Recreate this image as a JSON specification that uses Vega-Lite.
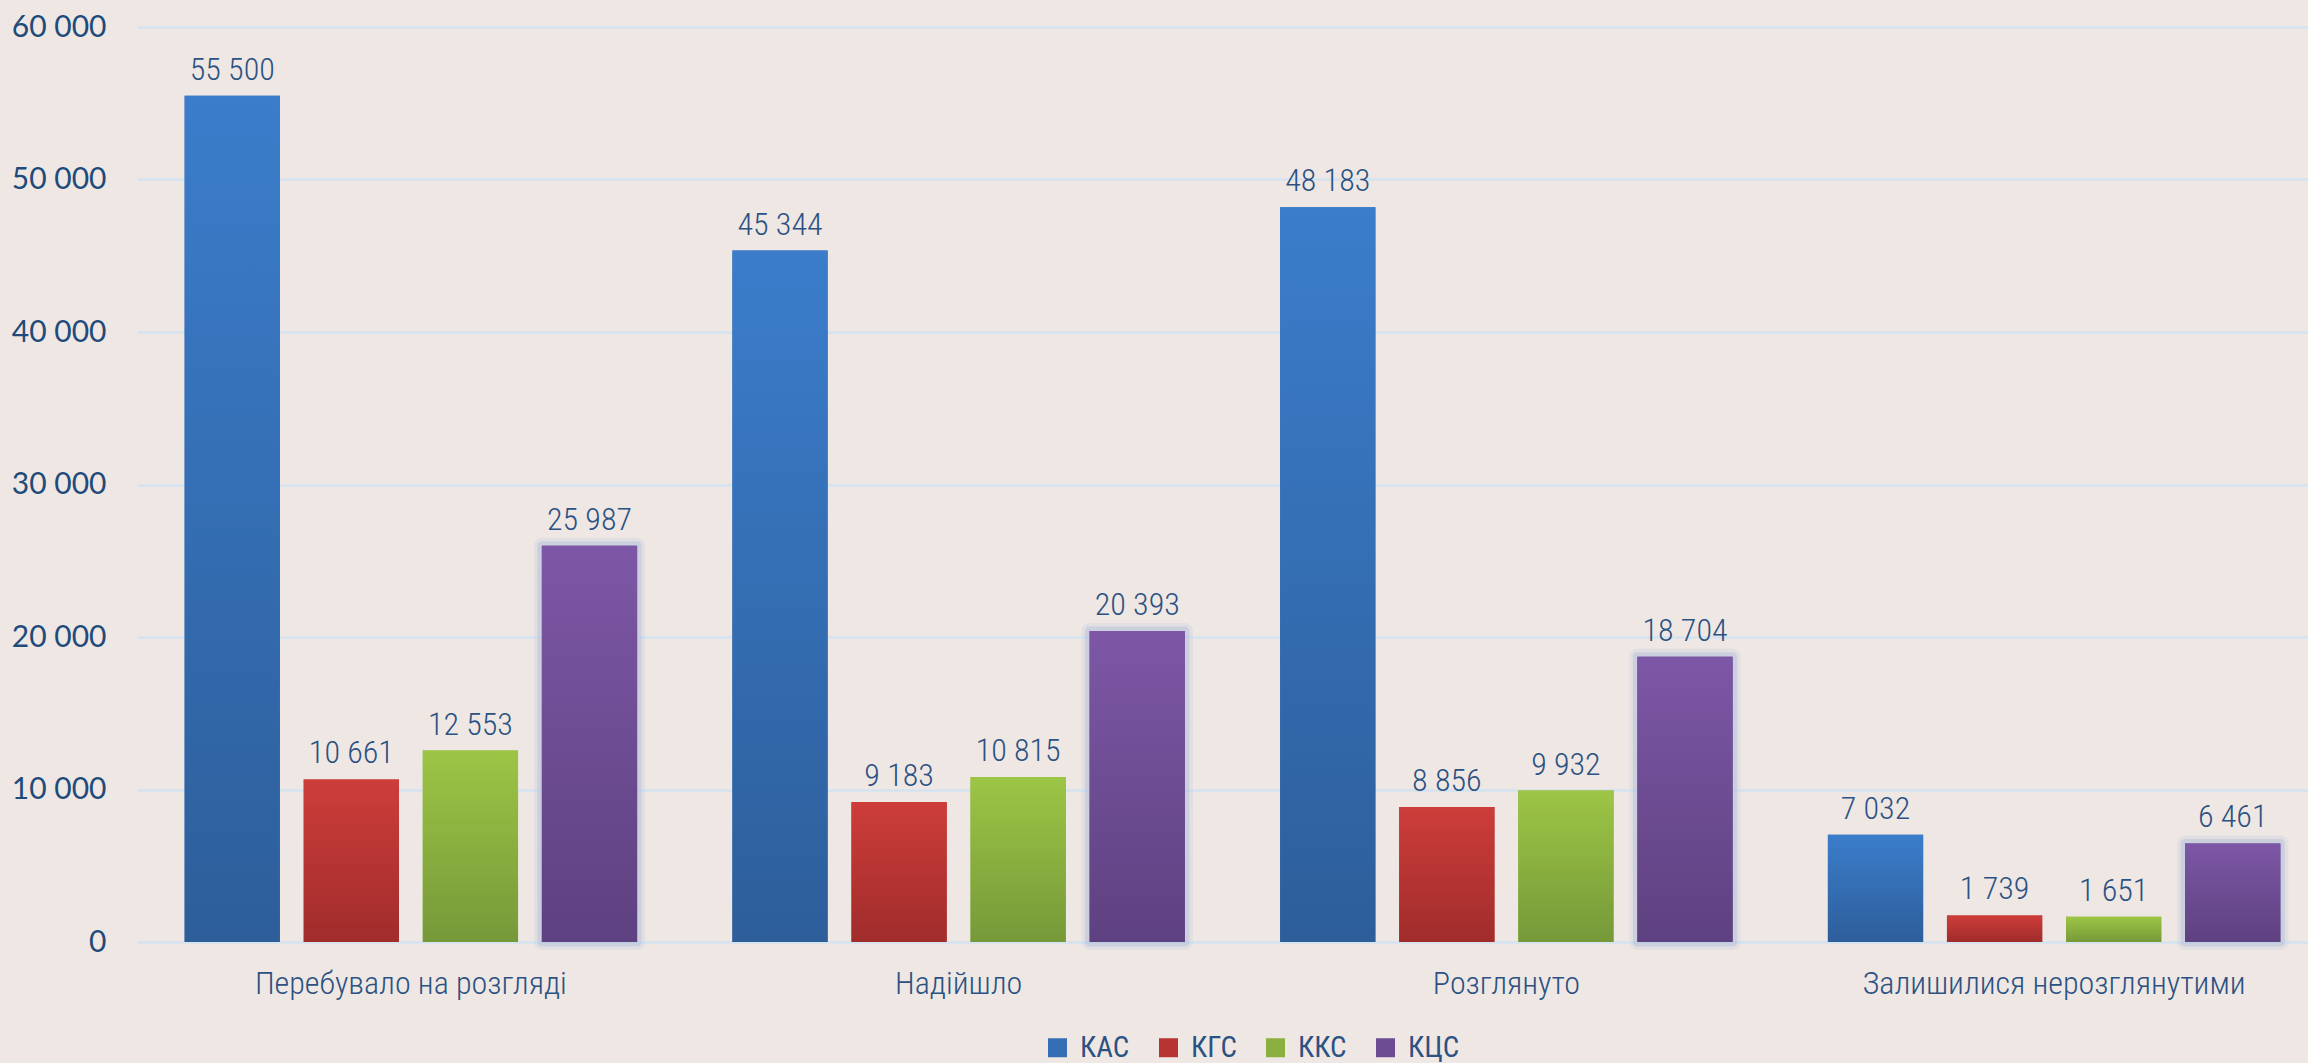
{
  "$schema": "https://vega.github.io/schema/vega-lite/v6.json",
  "width": 2171,
  "height": 915,
  "autosize": {"type": "none"},
  "padding": {"left": 137, "top": 27, "right": 0, "bottom": 121},
  "background": "#efe7e4",
  "data": {
    "values": [
      {"cat": "Перебувало на розгляді", "s": "КАС", "v": 55500},
      {"cat": "Перебувало на розгляді", "s": "КГС", "v": 10661},
      {"cat": "Перебувало на розгляді", "s": "ККС", "v": 12553},
      {"cat": "Перебувало на розгляді", "s": "КЦС", "v": 25987},
      {"cat": "Надійшло", "s": "КАС", "v": 45344},
      {"cat": "Надійшло", "s": "КГС", "v": 9183},
      {"cat": "Надійшло", "s": "ККС", "v": 10815},
      {"cat": "Надійшло", "s": "КЦС", "v": 20393},
      {"cat": "Розглянуто", "s": "КАС", "v": 48183},
      {"cat": "Розглянуто", "s": "КГС", "v": 8856},
      {"cat": "Розглянуто", "s": "ККС", "v": 9932},
      {"cat": "Розглянуто", "s": "КЦС", "v": 18704},
      {"cat": "Залишилися нерозглянутими", "s": "КАС", "v": 7032},
      {"cat": "Залишилися нерозглянутими", "s": "КГС", "v": 1739},
      {"cat": "Залишилися нерозглянутими", "s": "ККС", "v": 1651},
      {"cat": "Залишилися нерозглянутими", "s": "КЦС", "v": 6461}
    ]
  },
  "encoding": {
    "x": {
      "field": "cat",
      "type": "nominal",
      "sort": ["Перебувало на розгляді", "Надійшло", "Розглянуто", "Залишилися нерозглянутими"],
      "scale": {"range": [0, 2191], "paddingInner": 0, "paddingOuter": 0},
      "axis": {
        "title": null,
        "domain": false,
        "ticks": false,
        "labelAngle": 0,
        "labelLimit": 0,
        "labelPadding": 51,
        "labelBaseline": "alphabetic",
        "labelFont": "Roboto Condensed, Liberation Sans Narrow, DejaVu Sans Condensed, sans-serif",
        "labelFontWeight": 300,
        "labelFontSize": 32,
        "labelColor": "#2b5282"
      }
    },
    "xOffset": {
      "field": "s",
      "type": "nominal",
      "sort": ["КАС", "КГС", "ККС", "КЦС"],
      "scale": {"paddingInner": 0.2, "paddingOuter": 0.4}
    },
    "y": {
      "field": "v",
      "type": "quantitative",
      "scale": {"domain": [0, 60000], "nice": false},
      "axis": {
        "title": null,
        "domain": false,
        "ticks": false,
        "values": [0, 10000, 20000, 30000, 40000, 50000, 60000],
        "format": ",.0f",
        "labelPadding": 31,
        "labelFont": "Lato",
        "labelFontSize": 30,
        "labelColor": "#1f4b7a",
        "grid": true,
        "gridColor": "#d5e3f1",
        "gridWidth": 2.5
      }
    }
  },
  "layer": [
    {
      "transform": [{"filter": "datum.s === 'КЦС'"}],
      "mark": {"type": "bar", "fill": "#c4cde2", "stroke": "#c4cde2", "strokeWidth": 16, "strokeOpacity": 0.3, "strokeJoin": "round"}
    },
    {
      "transform": [{"filter": "datum.s === 'КЦС'"}],
      "mark": {"type": "bar", "fill": "#b3bfd9", "stroke": "#b3bfd9", "strokeWidth": 9, "strokeOpacity": 0.5, "strokeJoin": "round"}
    },
    {
      "mark": {"type": "bar"},
      "encoding": {
        "color": {
          "field": "s",
          "type": "nominal",
          "scale": {"domain": ["КАС", "КГС", "ККС", "КЦС"], "range": ["#346eb4", "#b83433", "#8bb03f", "#6e4c94"]},
          "legend": {
            "title": null,
            "orient": "none",
            "legendX": 906,
            "legendY": 1006,
            "direction": "horizontal",
            "symbolType": "square",
            "symbolSize": 361,
            "symbolStrokeWidth": 0,
            "labelFont": "Roboto Condensed, Liberation Sans Narrow, DejaVu Sans Condensed, sans-serif",
            "labelFontSize": 29,
            "labelColor": "#2b5282",
            "labelOffset": 8,
            "columnPadding": 24
          }
        }
      }
    },
    {
      "transform": [{"filter": "datum.s === 'КАС'"}],
      "mark": {"type": "bar", "fill": {"gradient": "linear", "x1": 0, "y1": 0, "x2": 0, "y2": 1, "stops": [{"offset": 0, "color": "#3b7dcb"}, {"offset": 1, "color": "#2d5e9a"}]}}
    },
    {
      "transform": [{"filter": "datum.s === 'КГС'"}],
      "mark": {"type": "bar", "fill": {"gradient": "linear", "x1": 0, "y1": 0, "x2": 0, "y2": 1, "stops": [{"offset": 0, "color": "#cd3d3a"}, {"offset": 1, "color": "#a02c2b"}]}}
    },
    {
      "transform": [{"filter": "datum.s === 'ККС'"}],
      "mark": {"type": "bar", "fill": {"gradient": "linear", "x1": 0, "y1": 0, "x2": 0, "y2": 1, "stops": [{"offset": 0, "color": "#9dc545"}, {"offset": 1, "color": "#769939"}]}}
    },
    {
      "transform": [{"filter": "datum.s === 'КЦС'"}],
      "mark": {"type": "bar", "fill": {"gradient": "linear", "x1": 0, "y1": 0, "x2": 0, "y2": 1, "stops": [{"offset": 0, "color": "#7d57a6"}, {"offset": 1, "color": "#5e4180"}]}}
    },
    {
      "mark": {
        "type": "text",
        "baseline": "alphabetic",
        "align": "center",
        "dy": -16,
        "font": "Roboto Condensed, Liberation Sans Narrow, DejaVu Sans Condensed, sans-serif",
        "fontWeight": 300,
        "fontSize": 32,
        "color": "#2b5282"
      },
      "encoding": {
        "text": {"field": "v", "type": "quantitative", "format": ","}
      }
    }
  ],
  "config": {
    "view": {"stroke": null},
    "locale": {"number": {"decimal": ",", "thousands": " ", "grouping": [3], "currency": ["", ""]}}
  }
}
